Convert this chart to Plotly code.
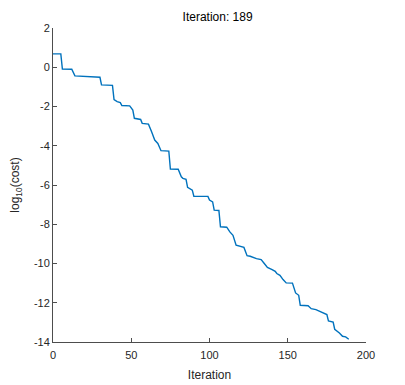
import plotly.graph_objects as go

# iteration breakpoints and log10(cost)
iteration = [0, 5, 6, 12, 14, 30, 31, 38, 39, 41, 43, 44, 49, 51, 52, 56, 57, 61,
             63, 65, 67, 69, 74, 75, 80, 82, 83, 85, 86, 89, 90, 99, 100, 102, 103,
             106, 107, 111, 113, 115, 117, 119, 122, 124, 126, 130, 133, 135, 137,
             140, 142, 143, 145, 147, 149, 153, 155, 157, 158, 163, 165, 168, 171,
             173, 175, 176, 179, 180, 181, 183, 185, 187, 189]
log_cost = [0.68, 0.68, -0.09, -0.1, -0.44, -0.51, -0.9, -0.92, -1.65, -1.75, -1.8,
            -1.95, -1.97, -2.18, -2.6, -2.66, -2.86, -2.9, -3.29, -3.71, -3.88, -4.25,
            -4.27, -5.19, -5.2, -5.58, -5.66, -5.71, -6.12, -6.26, -6.57, -6.58, -6.77,
            -6.86, -7.28, -7.3, -8.13, -8.15, -8.39, -8.56, -9.07, -9.12, -9.18, -9.6,
            -9.63, -9.75, -9.8, -10.0, -10.2, -10.31, -10.4, -10.51, -10.6, -10.82,
            -10.99, -11.0, -11.5, -11.62, -12.13, -12.15, -12.3, -12.35, -12.45,
            -12.52, -12.6, -12.93, -12.98, -13.35, -13.4, -13.54, -13.71, -13.74, -13.86]

x_ticks = [0, 50, 100, 150, 200]
y_ticks = [2, 0, -2, -4, -6, -8, -10, -12, -14]
y_tick_labels = ["2", "0", "-2", "-4", "-6", "-8", "-10", "-12", "-14"]

axis_col = "#4d4d4d"
text_col = "#262626"
font_family = "Liberation Sans, Arial, sans-serif"

fig = go.Figure()
fig.add_trace(go.Scatter(
    x=iteration, y=log_cost, mode="lines",
    line=dict(color="#0072BD", width=1.4), showlegend=False, hoverinfo="skip"
))

# page body adds an 8px offset, so the figure is a bit smaller than the window
fig.update_layout(
    width=397, height=377,
    paper_bgcolor="white", plot_bgcolor="white",
    margin=dict(l=45, r=39, t=20, b=43),
    font=dict(family=font_family, size=11, color=text_col),
    title=dict(text="Iteration: 189", x=0.528, xanchor="center", y=0.976, yanchor="middle",
               font=dict(size=12, color="black")),
)

fig.update_xaxes(
    range=[0, 200], tickvals=x_ticks, ticks="inside", ticklen=4, tickcolor=axis_col,
    showline=True, linecolor=axis_col, linewidth=1, showgrid=False, zeroline=False,
    automargin=False, ticklabelstandoff=3, tickfont=dict(size=11, color=text_col),
    title=dict(text="Iteration", font=dict(size=12, color=text_col), standoff=10),
)
fig.update_yaxes(
    range=[-14, 2], tickvals=y_ticks, ticktext=y_tick_labels, ticks="inside", ticklen=4,
    tickcolor=axis_col, showline=True, linecolor=axis_col, linewidth=1,
    showgrid=False, zeroline=False, automargin=False,
    tickfont=dict(size=11, color=text_col),
    title=dict(text="log<sub>10</sub>(cost)", font=dict(size=12, color=text_col), standoff=13),
)

fig.write_html("out.html")
